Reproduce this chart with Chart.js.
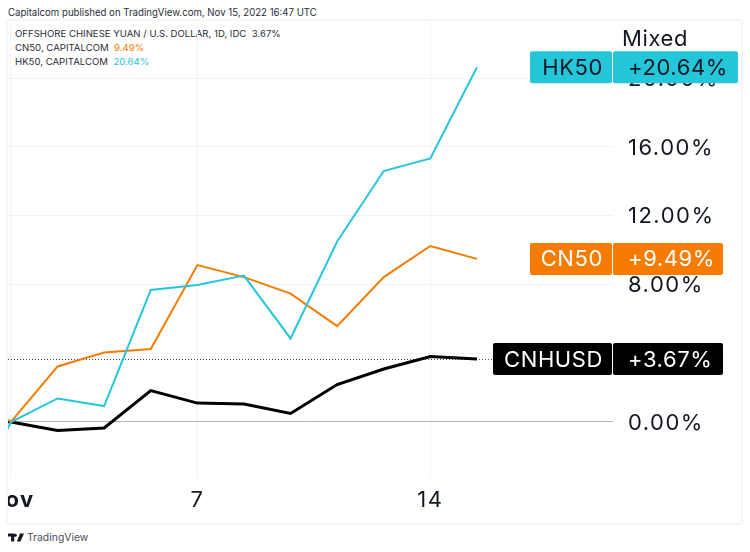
<!DOCTYPE html>
<html>
<head>
<meta charset="utf-8">
<style>
  body { margin: 0; background: #fff; width: 750px; height: 552px; position: relative; overflow: hidden;
         font-family: Inter, "Liberation Sans", sans-serif; color: #131722; }
  .txt { position: absolute; white-space: pre; }
  #publicado { left: 8px; top: 6px; font-size: 9.65px; line-height: 14px; color: #2a2e39; }
  .leyenda { left: 15px; font-size: 9.6px; line-height: 14px; color: #2a2e39; }
  #grafico-caja { position: absolute; left: 8px; top: 21px; width: 733px; height: 502px; outline: 2px solid #f6f6f8; }
  #marca { left: 27px; top: 531px; font-size: 10.4px; line-height: 14px; color: #4a4e59; }
  #logo { position: absolute; left: 8px; top: 533px; }
</style>
</head>
<body>
<div class="txt" id="publicado">Capitalcom published on TradingView.com, Nov 15, 2022 16:47 UTC</div>
<div class="txt leyenda" style="top:27px">OFFSHORE CHINESE YUAN / U.S. DOLLAR, 1D, IDC  3.67%</div>
<div class="txt leyenda" style="top:41px">CN50, CAPITALCOM  <span style="color:#f57c00">9.49%</span></div>
<div class="txt leyenda" style="top:55px">HK50, CAPITALCOM  <span style="color:#26c6da">20.64%</span></div>
<div id="grafico-caja"><canvas id="grafico" width="733" height="502"></canvas></div>
<svg id="logo" width="16" height="9" viewBox="0 0 36 18"><path fill="#131722" d="M14 18H7V7H0V0h14zM28 18H20L27 0h9zM20 4a3.5 3.5 0 1 1-7 0 3.5 3.5 0 0 1 7 0z"/></svg>
<div class="txt" id="marca">TradingView</div>

<script src="https://cdn.jsdelivr.net/npm/chart.js@4"></script>
<script>
// indice -1 es la rueda anterior, solo se ve el trozo que entra por el borde
const indices = [-1, 0, 1, 2, 3, 4, 5, 6, 7, 8, 9, 10];
const cnhusd = [0.3, 0, -0.5, -0.35, 1.83, 1.1, 1.05, 0.5, 2.18, 3.08, 3.81, 3.67];
const cn50 = [1.8, 0, 3.23, 4.04, 4.25, 9.13, 8.43, 7.47, 5.58, 8.43, 10.24, 9.49];
const hk50 = [-5.4, 0, 1.37, 0.93, 7.68, 7.97, 8.52, 4.86, 10.5, 14.6, 15.33, 20.64];

const xTicks = [0, 4, 9];
const xLabels = ["Nov", "7", "14"];
const yTicks = [0, 4, 8, 12, 16, 20];

const AZUL = "#26c6da";
const NARANJA = "#f57c00";
const NEGRO = "#000000";
const FUENTE = 'Inter, "Liberation Sans", sans-serif';

const etiquetas = [
  { nombre: "HK50", texto: "+20.64%", valor: 20.64, color: AZUL, tinta: "#131722", anchoNombre: 82, anchoValor: 125 },
  { nombre: "CN50", texto: "+9.49%", valor: 9.49, color: NARANJA, tinta: "#ffffff", anchoNombre: 82, anchoValor: 110 },
  { nombre: "CNHUSD", texto: "+3.67%", valor: 3.67, color: NEGRO, tinta: "#ffffff", anchoNombre: 119, anchoValor: 110 },
];

function puntos(valores) {
  return valores.map((v, i) => ({ x: indices[i], y: v }));
}

// el espaciado del lienzo lo heredan los ticks que dibuja Chart.js
const espaciado = {
  id: "espaciado",
  beforeDraw(chart) {
    chart.ctx.letterSpacing = "1.5px";
  },
};

// linea punteada del ultimo precio
const lineaPrecio = {
  id: "lineaPrecio",
  beforeDatasetsDraw(chart) {
    const { ctx, chartArea, scales } = chart;
    const y = Math.round(scales.y.getPixelForValue(3.67)) + 0.5;
    ctx.save();
    ctx.strokeStyle = "#50535e";
    ctx.lineWidth = 1;
    ctx.setLineDash([1, 2]);
    ctx.beginPath();
    ctx.moveTo(chartArea.left, y);
    ctx.lineTo(chartArea.right, y);
    ctx.stroke();
    ctx.restore();
  },
};

// etiquetas de la derecha, tapan parte de los ticks como en TradingView
const etiquetasEje = {
  id: "etiquetasEje",
  afterDraw(chart) {
    const { ctx, chartArea, scales } = chart;
    const corte = chartArea.right;
    ctx.save();
    ctx.font = "22px " + FUENTE;
    ctx.textBaseline = "middle";
    ctx.letterSpacing = "0.6px";
    etiquetas.forEach((e) => {
      const y = scales.y.getPixelForValue(e.valor);
      const alto = 32;
      const arriba = y - 16;
      ctx.fillStyle = e.color;
      ctx.beginPath();
      ctx.roundRect(corte - e.anchoNombre - 1, arriba, e.anchoNombre, alto, 2);
      ctx.fill();
      ctx.beginPath();
      ctx.roundRect(corte, arriba, e.anchoValor, alto, 2);
      ctx.fill();
      ctx.fillStyle = e.tinta;
      ctx.textAlign = "right";
      ctx.fillText(e.nombre, corte - 10, arriba + alto / 2 + 1);
      ctx.textAlign = "left";
      ctx.fillText(e.texto, corte + 15, arriba + alto / 2 + 1);
    });
    ctx.fillStyle = "#131722";
    ctx.textAlign = "left";
    ctx.fillText("Mixed", corte + 9, 18);
    ctx.restore();
  },
};

const grafico = new Chart(document.getElementById("grafico").getContext("2d"), {
  type: "line",
  data: {
    datasets: [
      { label: "HK50", data: puntos(hk50), borderColor: AZUL, borderWidth: 2 },
      { label: "CN50", data: puntos(cn50), borderColor: NARANJA, borderWidth: 2 },
      { label: "CNHUSD", data: puntos(cnhusd), borderColor: NEGRO, borderWidth: 3 },
    ],
  },
  options: {
    responsive: false,
    animation: false,
    clip: 0,
    elements: { point: { radius: 0 }, line: { tension: 0, borderJoinStyle: "miter" } },
    layout: { padding: 0 },
    plugins: { legend: { display: false }, tooltip: { enabled: false } },
    scales: {
      x: {
        type: "linear",
        min: -0.064,
        max: 12.92,
        afterBuildTicks: (s) => { s.ticks = xTicks.map((v) => ({ value: v })); },
        afterFit: (s) => { s.height = 46; s.paddingLeft = 0; s.paddingRight = 0; },
        grid: { color: "#f0f3fa", drawTicks: false },
        border: { display: false },
        ticks: {
          maxRotation: 0,
          autoSkip: false,
          padding: 10,
          color: "#131722",
          font: (c) => ({ family: FUENTE, size: 22, weight: c.index === 0 ? "bold" : "normal" }),
          callback: (v) => xLabels[xTicks.indexOf(v)],
        },
      },
      y: {
        position: "right",
        min: -3.2,
        max: 23.33,
        afterBuildTicks: (s) => { s.ticks = yTicks.map((v) => ({ value: v })); },
        afterFit: (s) => { s.width = 128; s.paddingTop = 0; s.paddingBottom = 0; },
        grid: {
          color: (c) => (c.tick && c.tick.value === 0 ? "#b2b5be" : "#f0f3fa"),
          drawTicks: false,
        },
        border: { display: false },
        ticks: {
          padding: 15,
          labelOffset: 1,
          color: "#131722",
          font: { family: FUENTE, size: 22 },
          callback: (v) => v.toFixed(2) + "%",
        },
      },
    },
  },
  plugins: [espaciado, lineaPrecio, etiquetasEje],
});
</script>
</body>
</html>
